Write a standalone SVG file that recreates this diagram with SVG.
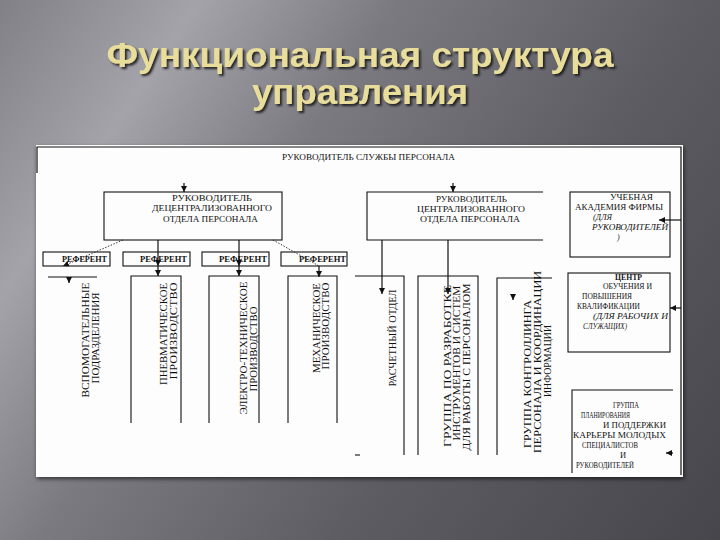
<svg xmlns="http://www.w3.org/2000/svg" width="720" height="540" viewBox="0 0 720 540">
  <defs>
    <linearGradient id="bg" gradientUnits="userSpaceOnUse" x1="0" y1="0" x2="810" y2="540">
      <stop offset="0" stop-color="#808086"/>
      <stop offset="0.17" stop-color="#a3a3a9"/>
      <stop offset="0.34" stop-color="#7a7a80"/>
      <stop offset="0.6" stop-color="#5c5c62"/>
      <stop offset="0.92" stop-color="#46464c"/>
    </linearGradient>
    <filter id="tsh" x="-5%" y="-20%" width="110%" height="140%">
      <feDropShadow dx="2" dy="2" stdDeviation="1.2" flood-color="#151515" flood-opacity="0.9"/>
    </filter>
    <filter id="psh" x="-5%" y="-5%" width="110%" height="110%">
      <feDropShadow dx="1" dy="2" stdDeviation="2" flood-color="#000" flood-opacity="0.6"/>
    </filter>
    <marker id="ah" viewBox="0 0 10 10" refX="10" refY="5" markerWidth="6" markerHeight="6" markerUnits="userSpaceOnUse" orient="auto">
      <path d="M0,0 L10,5 L0,10 z" fill="#111"/>
    </marker>
    <style>
      .title { font-family: "Liberation Sans", Arial, sans-serif; font-weight: bold; font-size: 35px; fill: #e9dd9c; text-anchor: middle; }
      .ln { stroke: #111; stroke-width: 1.2; fill: none; }
      .bx { stroke: #111; stroke-width: 1.1; fill: none; }
      .dot { stroke: #222; stroke-width: 0.9; stroke-dasharray: 1.5 1.5; fill: none; }
      .t { font-family: "Liberation Serif", "Times New Roman", serif; font-size: 8.5px; fill: #111; }
      .tb { font-family: "Liberation Serif", "Times New Roman", serif; font-size: 8px; font-weight: bold; fill: #111; }
      .ti { font-family: "Liberation Serif", "Times New Roman", serif; font-size: 8px; font-style: italic; fill: #111; }
      .v { font-family: "Liberation Serif", "Times New Roman", serif; font-size: 10px; fill: #111; }
    </style>
  </defs>

  <rect x="0" y="0" width="720" height="540" fill="url(#bg)"/>

  <g id="title" filter="url(#tsh)">
    <text class="title" x="360" y="67" textLength="507" lengthAdjust="spacingAndGlyphs">Функциональная структура</text>
    <text class="title" x="360" y="104" textLength="216" lengthAdjust="spacingAndGlyphs">управления</text>
  </g>

  <rect id="panel" x="36" y="145" width="647" height="332" fill="#fdfdfd" filter="url(#psh)"/>

  <g id="frame">
    <path class="ln" d="M37,173 V147 H681 V475"/>
    <text class="t" x="282" y="160" textLength="173" lengthAdjust="spacingAndGlyphs">РУКОВОДИТЕЛЬ СЛУЖБЫ ПЕРСОНАЛА</text>
  </g>

  <g id="decentral-head">
    <rect class="bx" x="104" y="192" width="178" height="48"/>
    <text class="t" x="172" y="201" textLength="80" lengthAdjust="spacingAndGlyphs">РУКОВОДИТЕЛЬ</text>
    <text class="t" x="152" y="211" textLength="120" lengthAdjust="spacingAndGlyphs">ДЕЦЕНТРАЛИЗОВАННОГО</text>
    <text class="t" x="163" y="222" textLength="95" lengthAdjust="spacingAndGlyphs">ОТДЕЛА ПЕРСОНАЛА</text>
  </g>

  <g id="central-head">
    <path class="bx" d="M543,192 H367 V240 H543"/>
    <text class="t" x="436" y="202" textLength="71" lengthAdjust="spacingAndGlyphs">РУКОВОДИТЕЛЬ</text>
    <text class="t" x="417" y="212" textLength="108" lengthAdjust="spacingAndGlyphs">ЦЕНТРАЛИЗОВАННОГО</text>
    <text class="t" x="420" y="222" textLength="100" lengthAdjust="spacingAndGlyphs">ОТДЕЛА ПЕРСОНАЛА</text>
  </g>

  <g id="referent-1">
    <rect class="bx" x="43" y="252" width="67" height="14"/>
    <text class="tb" x="62" y="262" textLength="45" lengthAdjust="spacingAndGlyphs">РЕФЕРЕНТ</text>
  </g>
  <g id="referent-2">
    <rect class="bx" x="123" y="252" width="67" height="14"/>
    <text class="tb" x="140" y="262" textLength="47" lengthAdjust="spacingAndGlyphs">РЕФЕРЕНТ</text>
  </g>
  <g id="referent-3">
    <rect class="bx" x="202" y="252" width="67" height="14"/>
    <text class="tb" x="219" y="262" textLength="48" lengthAdjust="spacingAndGlyphs">РЕФЕРЕНТ</text>
  </g>
  <g id="referent-4">
    <rect class="bx" x="281" y="252" width="66" height="14"/>
    <text class="tb" x="299" y="262" textLength="47" lengthAdjust="spacingAndGlyphs">РЕФЕРЕНТ</text>
  </g>

  <g id="auxiliary">
    <path class="ln" d="M48,277 H97"/>
    <text class="v" transform="translate(88.5,340) rotate(-90)" text-anchor="middle" textLength="115" lengthAdjust="spacingAndGlyphs">ВСПОМОГАТЕЛЬНЫЕ</text>
    <text class="v" transform="translate(98.5,338) rotate(-90)" text-anchor="middle" textLength="91" lengthAdjust="spacingAndGlyphs">ПОДРАЗДЕЛЕНИЯ</text>
  </g>

  <g id="pneumatic">
    <path class="bx" d="M131,423 V276 H181 V423"/>
    <text class="v" transform="translate(166.5,334) rotate(-90)" text-anchor="middle" textLength="102" lengthAdjust="spacingAndGlyphs">ПНЕВМАТИЧЕСКОЕ</text>
    <text class="v" transform="translate(176.5,331) rotate(-90)" text-anchor="middle" textLength="97" lengthAdjust="spacingAndGlyphs">ПРОИЗВОДСТВО</text>
  </g>

  <g id="electro">
    <path class="bx" d="M209,423 V276 H259 V423"/>
    <text class="v" transform="translate(246.5,348) rotate(-90)" text-anchor="middle" textLength="133" lengthAdjust="spacingAndGlyphs">ЭЛЕКТРО-ТЕХНИЧЕСКОЕ</text>
    <text class="v" transform="translate(256.5,349) rotate(-90)" text-anchor="middle" textLength="85" lengthAdjust="spacingAndGlyphs">ПРОИЗВОДСТВО</text>
  </g>

  <g id="mechanical">
    <path class="bx" d="M288,423 V276 H337 V423"/>
    <text class="v" transform="translate(319.5,328) rotate(-90)" text-anchor="middle" textLength="90" lengthAdjust="spacingAndGlyphs">МЕХАНИЧЕСКОЕ</text>
    <text class="v" transform="translate(328.5,326) rotate(-90)" text-anchor="middle" textLength="87" lengthAdjust="spacingAndGlyphs">ПРОИЗВОДСТВО</text>
  </g>

  <g id="payroll">
    <path class="bx" d="M355,276 H404 V455"/>
    <path class="bx" d="M355,455 H360"/>
    <text class="v" transform="translate(395.5,338) rotate(-90)" text-anchor="middle" textLength="97" lengthAdjust="spacingAndGlyphs">РАСЧЕТНЫЙ ОТДЕЛ</text>
  </g>

  <g id="tools-group">
    <path class="bx" d="M418,455 V276 H478 V455"/>
    <text class="v" transform="translate(450.5,366) rotate(-90)" text-anchor="middle" textLength="162" lengthAdjust="spacingAndGlyphs">ГРУППА ПО РАЗРАБОТКЕ</text>
    <text class="v" transform="translate(460,363) rotate(-90)" text-anchor="middle" textLength="155" lengthAdjust="spacingAndGlyphs">ИНСТРУМЕНТОВ И СИСТЕМ</text>
    <text class="v" transform="translate(469.5,367) rotate(-90)" text-anchor="middle" textLength="167" lengthAdjust="spacingAndGlyphs">ДЛЯ РАБОТЫ С ПЕРСОНАЛОМ</text>
  </g>

  <g id="controlling-group">
    <path class="bx" d="M497,455 V278 H552"/>
    <text class="v" transform="translate(530.5,374) rotate(-90)" text-anchor="middle" textLength="148" lengthAdjust="spacingAndGlyphs">ГРУППА КОНТРОЛЛИНГА</text>
    <text class="v" transform="translate(540.5,362) rotate(-90)" text-anchor="middle" textLength="182" lengthAdjust="spacingAndGlyphs">ПЕРСОНАЛА И КООРДИНАЦИИ</text>
    <text class="v" transform="translate(550.5,361) rotate(-90)" text-anchor="middle" textLength="72" lengthAdjust="spacingAndGlyphs">ИНФОРМАЦИИ</text>
  </g>

  <g id="academy">
    <rect class="bx" x="570" y="192" width="100" height="65"/>
    <text class="t" x="610" y="200" textLength="43" lengthAdjust="spacingAndGlyphs">УЧЕБНАЯ</text>
    <text class="t" x="575" y="209.5" textLength="88" lengthAdjust="spacingAndGlyphs">АКАДЕМИЯ ФИРМЫ</text>
    <text class="ti" x="593" y="220" textLength="19" lengthAdjust="spacingAndGlyphs">(ДЛЯ</text>
    <text class="ti" x="592" y="230" textLength="76" lengthAdjust="spacingAndGlyphs">РУКОВОДИТЕЛЕЙ</text>
    <text class="ti" x="617" y="240">)</text>
  </g>

  <g id="training-center">
    <rect class="bx" x="568" y="273" width="102" height="79"/>
    <text class="tb" x="615" y="279.5" textLength="27" lengthAdjust="spacingAndGlyphs">ЦЕНТР</text>
    <text class="t" x="603" y="289" textLength="49" lengthAdjust="spacingAndGlyphs">ОБУЧЕНИЯ И</text>
    <text class="t" x="582" y="299" textLength="50" lengthAdjust="spacingAndGlyphs">ПОВЫШЕНИЯ</text>
    <text class="t" x="577" y="309" textLength="63" lengthAdjust="spacingAndGlyphs">КВАЛИФИКАЦИИ</text>
    <text class="ti" x="593" y="319" textLength="75" lengthAdjust="spacingAndGlyphs">(ДЛЯ РАБОЧИХ И</text>
    <text class="ti" x="583" y="328.5" textLength="44" lengthAdjust="spacingAndGlyphs">СЛУЖАЩИХ)</text>
  </g>

  <g id="career-group">
    <path class="bx" d="M572,473 V390 H673"/>
    <text class="t" x="613" y="408" textLength="26" lengthAdjust="spacingAndGlyphs">ГРУППА</text>
    <text class="t" x="581" y="418" textLength="49" lengthAdjust="spacingAndGlyphs">ПЛАНИРОВАНИЯ</text>
    <text class="t" x="603" y="428" textLength="63" lengthAdjust="spacingAndGlyphs">И ПОДДЕРЖКИ</text>
    <text class="t" x="573" y="437.5" textLength="93" lengthAdjust="spacingAndGlyphs">КАРЬЕРЫ МОЛОДЫХ</text>
    <text class="t" x="582" y="447.5" textLength="56" lengthAdjust="spacingAndGlyphs">СПЕЦИАЛИСТОВ</text>
    <text class="t" x="620" y="457.5">И</text>
    <text class="t" x="576" y="467.5" textLength="58" lengthAdjust="spacingAndGlyphs">РУКОВОДИТЕЛЕЙ</text>
  </g>

  <g id="connectors">
    <path class="ln" d="M184,183 V192" marker-end="url(#ah)"/>
    <path class="ln" d="M453,183 V192" marker-end="url(#ah)"/>
    <path class="dot" d="M123,240 L63,266" marker-end="url(#ah)"/>
    <path class="ln" d="M158,240 V266" marker-end="url(#ah)"/>
    <path class="ln" d="M158,266 V276" marker-end="url(#ah)"/>
    <path class="ln" d="M239,240 V266" marker-end="url(#ah)"/>
    <path class="ln" d="M239,266 V276" marker-end="url(#ah)"/>
    <path class="dot" d="M273,240 L319,266"/>
    <path class="ln" d="M319,266 V277" marker-end="url(#ah)"/>
    <path class="ln" d="M69,277 V283" marker-end="url(#ah)"/>
    <path class="ln" d="M382,240 V294" marker-end="url(#ah)"/>
    <path class="ln" d="M448,240 V294" marker-end="url(#ah)"/>
    <path class="ln" d="M513,294 V300" marker-end="url(#ah)"/>
    <path class="ln" d="M681,220 H659" marker-end="url(#ah)"/>
    <path class="ln" d="M681,308 H670" marker-end="url(#ah)"/>
    <path class="ln" d="M673,453 H666" marker-end="url(#ah)"/>
  </g>
</svg>
